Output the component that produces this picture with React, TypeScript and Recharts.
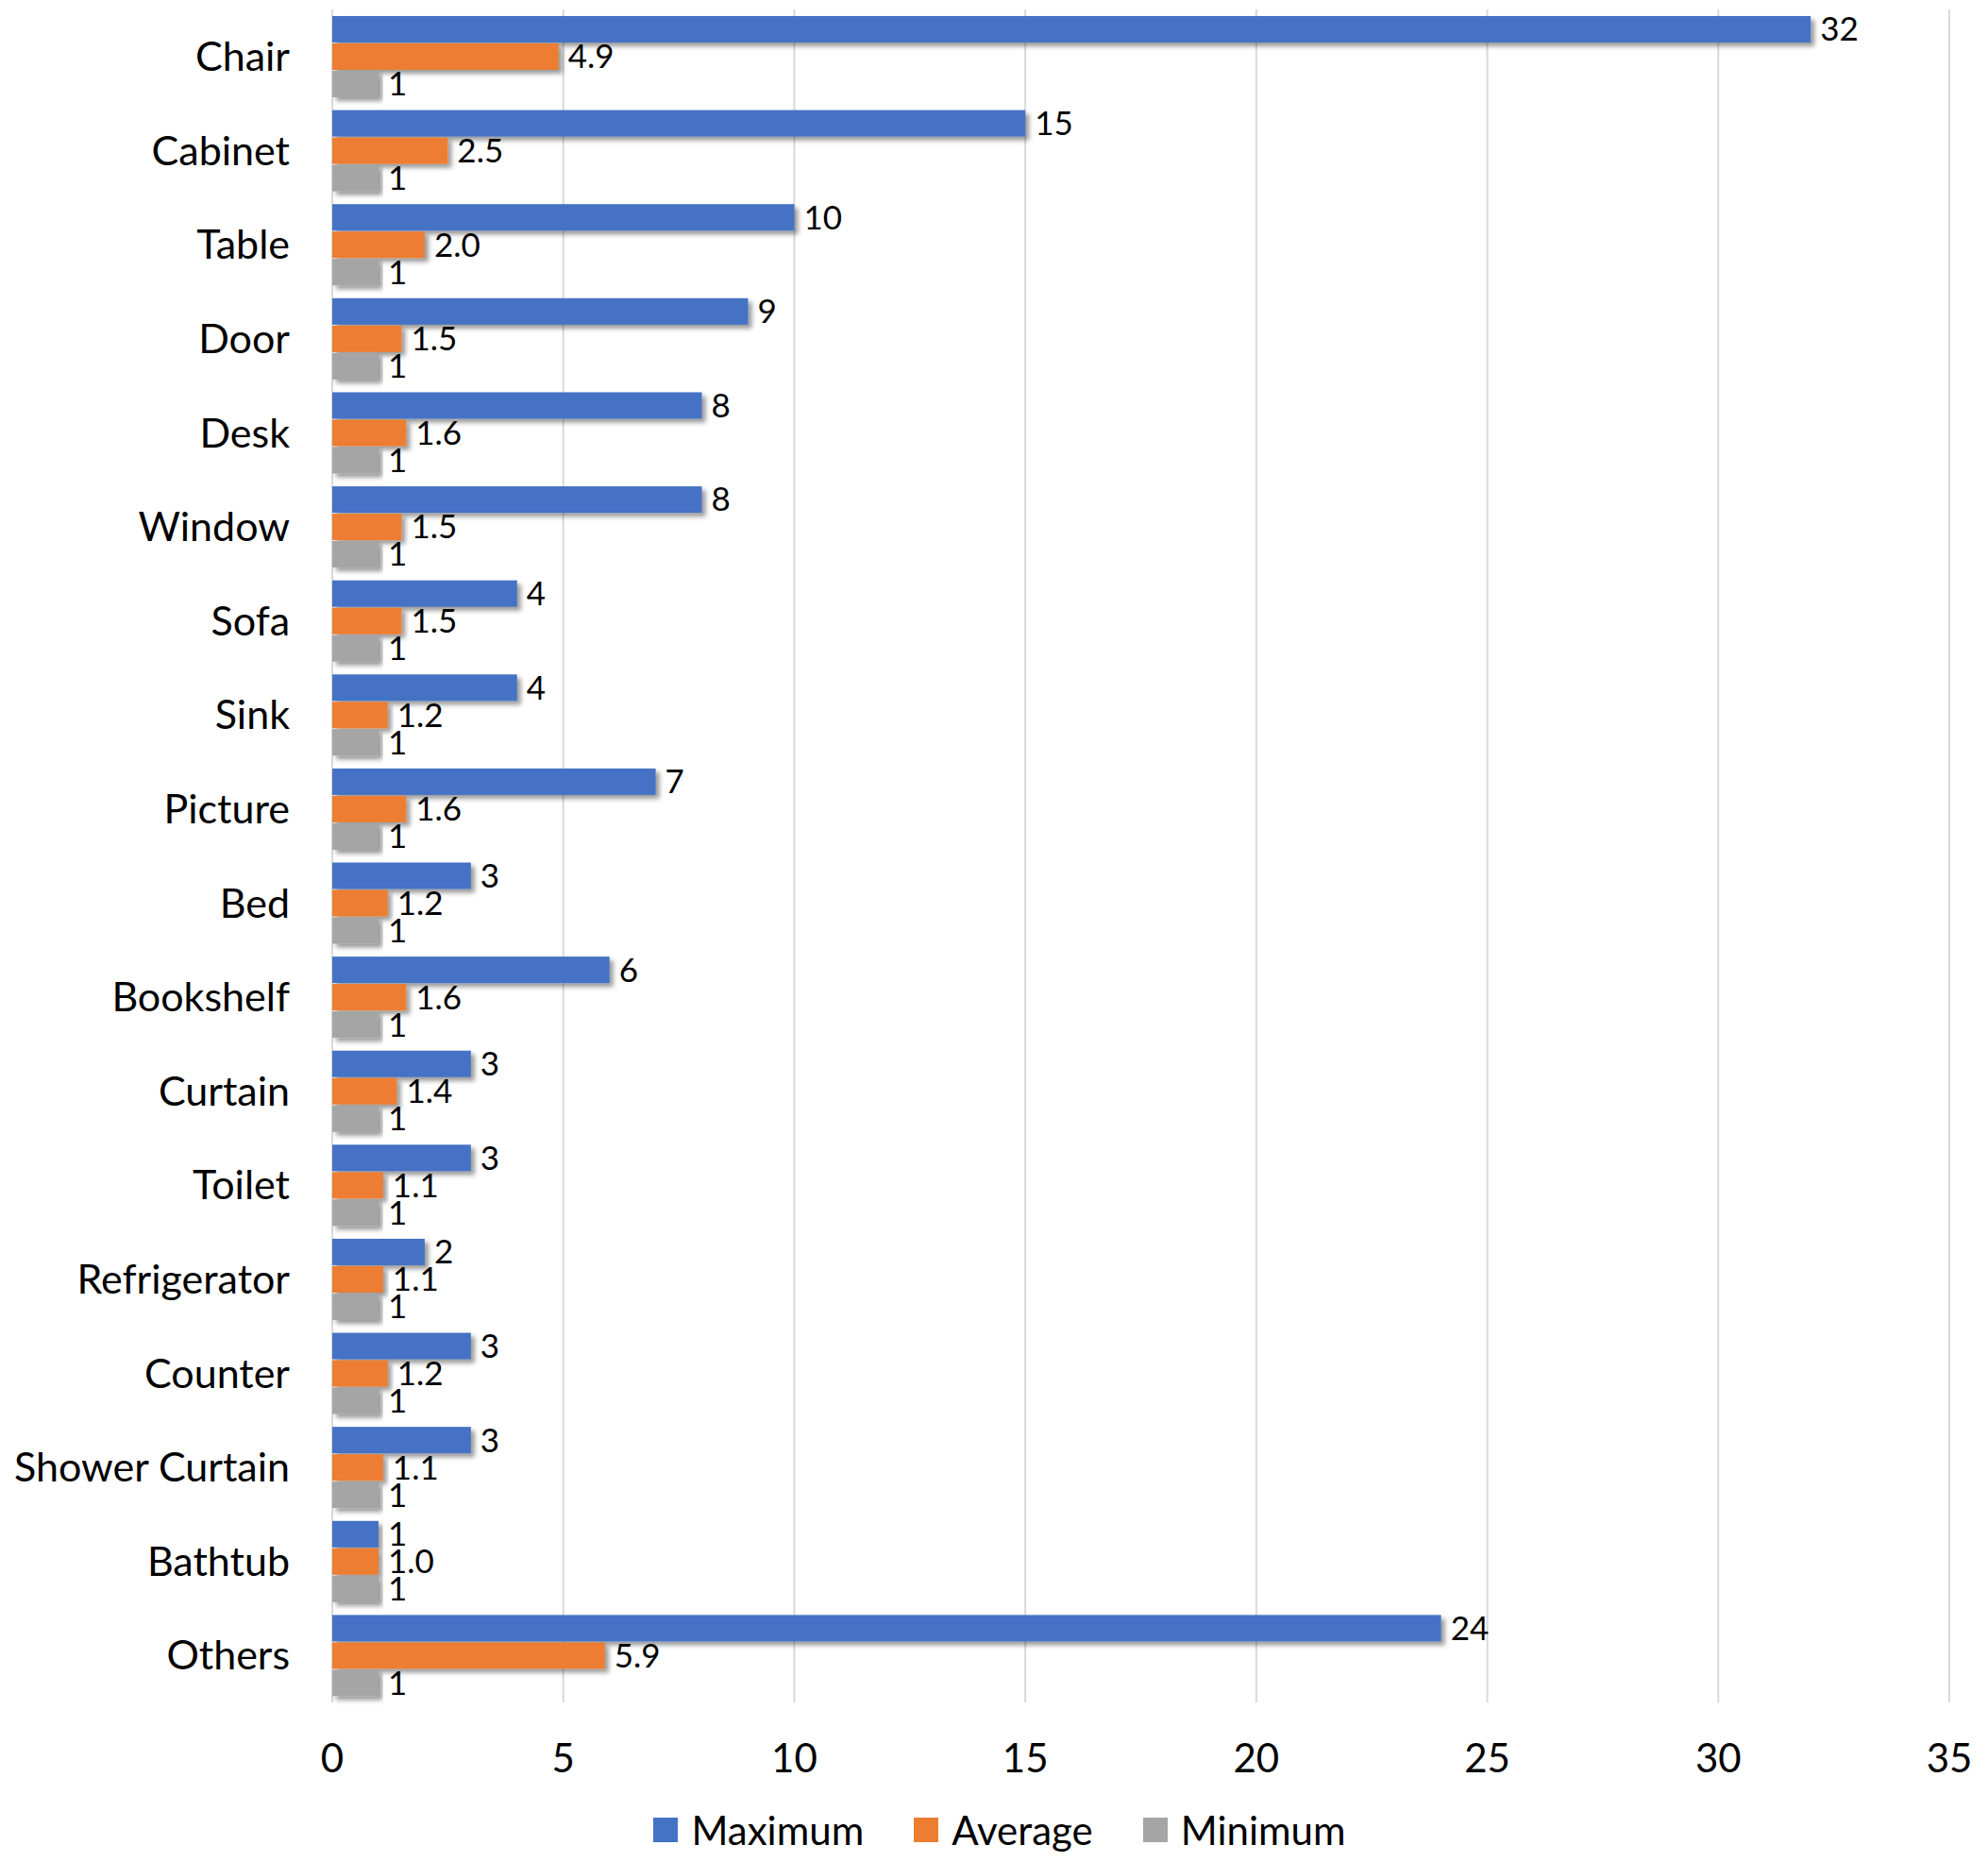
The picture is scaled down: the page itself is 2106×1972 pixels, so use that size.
import React from 'react'
import { BarChart, Bar, XAxis, YAxis, CartesianGrid, Legend, LabelList } from 'recharts'

const categories = [
    'Chair', 'Cabinet', 'Table', 'Door', 'Desk', 'Window', 'Sofa', 'Sink', 'Picture',
    'Bed', 'Bookshelf', 'Curtain', 'Toilet', 'Refrigerator', 'Counter', 'Shower Curtain', 'Bathtub', 'Others',
]
const maximum = [32, 15, 10, 9, 8, 8, 4, 4, 7, 3, 6, 3, 3, 2, 3, 3, 1, 24]
const average = [4.9, 2.5, 2.0, 1.5, 1.6, 1.5, 1.5, 1.2, 1.6, 1.2, 1.6, 1.4, 1.1, 1.1, 1.2, 1.1, 1.0, 5.9]
const minimum = [1, 1, 1, 1, 1, 1, 1, 1, 1, 1, 1, 1, 1, 1, 1, 1, 1, 1]
const seriesNames = ['Maximum', 'Average', 'Minimum']
const xTicks = [0, 5, 10, 15, 20, 25, 30, 35]

const data = categories.map((name, i) => ({
    name,
    maximum: maximum[i],
    average: average[i],
    minimum: minimum[i],
}))

const FONT = 'Lato, Carlito, Calibri, sans-serif'

const ShadowBar = (props: any) => {
    const { x, y, width, height, fill } = props
    if (!width || width <= 0) return null
    return <rect x={x} y={y} width={width} height={height} fill={fill} filter="url(#barShadow)" />
}

const LegendContent = (props: any) => {
    const items = [...(props.payload || [])].sort(
        (a: any, b: any) => seriesNames.indexOf(a.value) - seriesNames.indexOf(b.value)
    )
    return (
        <div style={{ display: 'flex', justifyContent: 'center', alignItems: 'center', height: 50, gap: 53, paddingLeft: 12, fontFamily: FONT, fontSize: 42, color: '#000' }}>
            {items.map((it: any) => (
                <div key={it.value} style={{ display: 'flex', alignItems: 'center' }}>
                    <span style={{ display: 'inline-block', width: 26, height: 26, background: it.color, marginRight: 14 }} />
                    <span>{it.value}</span>
                </div>
            ))}
        </div>
    )
}

export default function App() {
    const labelStyle = { fontSize: 35, fill: '#000', fontFamily: FONT }
    return (
        <div style={{ position: 'absolute', left: 0, top: 0, background: '#fff' }}>
            <BarChart
                width={2106}
                height={1972}
                data={data}
                layout="vertical"
                margin={{ top: 10, right: 41, bottom: 9, left: 0 }}
                barCategoryGap={7}
                barGap={1}
            >
                <defs>
                    <filter id="barShadow" x="-5%" y="-20%" width="115%" height="160%">
                        <feDropShadow dx="4" dy="4" stdDeviation="2.5" floodColor="#000" floodOpacity="0.4" />
                    </filter>
                </defs>
                <CartesianGrid horizontal={false} stroke="#d9d9d9" strokeWidth={2} />
                <XAxis
                    type="number"
                    domain={[0, 35]}
                    ticks={xTicks}
                    axisLine={false}
                    tickLine={false}
                    tickSize={0}
                    tickMargin={44}
                    height={110}
                    tick={{ fontSize: 42, fill: '#000', fontFamily: FONT }}
                />
                <YAxis
                    type="category"
                    dataKey="name"
                    width={352}
                    axisLine={false}
                    tickLine={false}
                    tickSize={0}
                    tickMargin={45}
                    interval={0}
                    tick={{ fontSize: 43, fill: '#000', fontFamily: FONT }}
                />
                <Legend
                    verticalAlign="bottom"
                    wrapperStyle={{ left: 0, width: 2106 }}
                    content={<LegendContent />}
                />
                <Bar dataKey="maximum" name={seriesNames[0]} fill="#4472C4" shape={<ShadowBar />} isAnimationActive={false}>
                    <LabelList dataKey="maximum" position="right" offset={10} style={labelStyle} />
                </Bar>
                <Bar dataKey="average" name={seriesNames[1]} fill="#ED7D31" shape={<ShadowBar />} isAnimationActive={false}>
                    <LabelList
                        dataKey="average"
                        position="right"
                        offset={10}
                        style={labelStyle}
                        formatter={(v: any) => Number(v).toFixed(1)}
                    />
                </Bar>
                <Bar dataKey="minimum" name={seriesNames[2]} fill="#A5A5A5" shape={<ShadowBar />} isAnimationActive={false}>
                    <LabelList dataKey="minimum" position="right" offset={10} style={labelStyle} />
                </Bar>
            </BarChart>
        </div>
    )
}
